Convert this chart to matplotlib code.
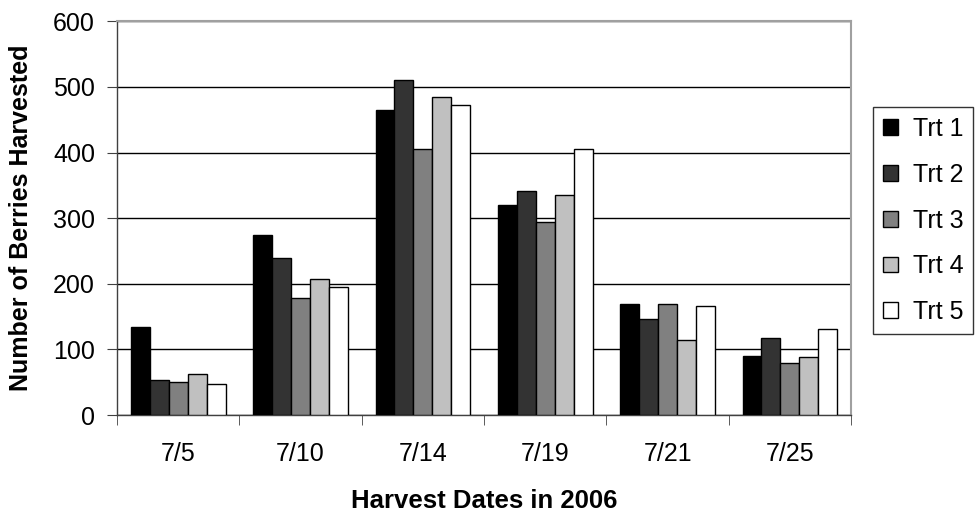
import matplotlib
matplotlib.use("Agg")
import matplotlib.pyplot as plt
import numpy as np

plt.rcParams['font.family'] = ['Liberation Sans', 'DejaVu Sans']

dates = ["7/5", "7/10", "7/14", "7/19", "7/21", "7/25"]
series_names = ["Trt 1", "Trt 2", "Trt 3", "Trt 4", "Trt 5"]
trt1 = [135, 275, 464, 320, 169, 90]
trt2 = [54, 239, 511, 342, 147, 118]
trt3 = [51, 179, 406, 294, 169, 80]
trt4 = [63, 207, 485, 335, 114, 89]
trt5 = [47, 195, 472, 406, 166, 131]
colors = ["#000000", "#333333", "#808080", "#c0c0c0", "#ffffff"]

fig = plt.figure(figsize=(9.76, 5.17), dpi=100)
ax = fig.add_axes([0.12, 0.197, 0.752, 0.762])

data = [trt1, trt2, trt3, trt4, trt5]
x = np.arange(len(dates))
bw = 0.155
for i, (vals, name, c) in enumerate(zip(data, series_names, colors)):
    ax.bar(x + (i - 2) * bw, vals, width=bw, color=c, edgecolor="black",
           linewidth=1.0, label=name, zorder=3)

ax.set_xlim(-0.5, len(dates) - 0.5)
ax.set_ylim(0, 600)
ax.set_yticks(np.arange(0, 601, 100))
ax.yaxis.grid(True, color="black", linewidth=1.0, zorder=0)
ax.set_axisbelow(True)

ax.set_xticks(x)
ax.set_xticklabels(dates, fontsize=18)
ax.tick_params(axis='x', length=0, pad=19)
ax.set_xticks(np.arange(-0.5, len(dates) + 0.5, 1), minor=True)
ax.tick_params(axis='x', which='minor', length=7, direction='out', color='#404040')
ax.tick_params(axis='y', labelsize=18, length=7, direction='out', color='#404040', pad=9)

for s in ['top', 'right']:
    ax.spines[s].set_color('#a0a0a0')
    ax.spines[s].set_linewidth(1.5)
for s in ['left', 'bottom']:
    ax.spines[s].set_color('#404040')
    ax.spines[s].set_linewidth(1.0)

ax.set_xlabel("Harvest Dates in 2006", fontsize=18.5, fontweight='bold', labelpad=17)
ax.set_ylabel("Number of Berries Harvested", fontsize=18, fontweight='bold', labelpad=14)

leg = fig.legend(loc='upper left', bbox_to_anchor=(0.894, 0.793), fontsize=18,
                 frameon=True, fancybox=False, edgecolor='black', handlelength=0.6,
                 handleheight=0.6, labelspacing=0.87, borderpad=0.4, handletextpad=0.6,
                 borderaxespad=0)
leg.get_frame().set_linewidth(1.0)

fig.savefig("out.png", dpi=100)
